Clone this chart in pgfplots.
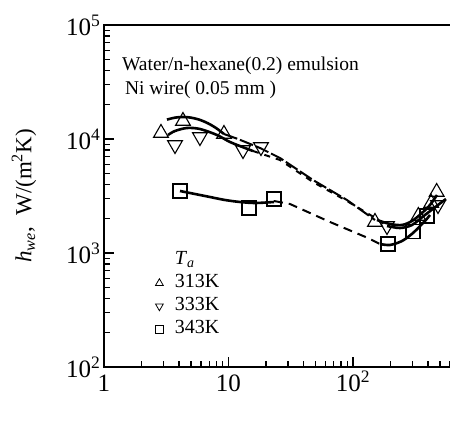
\documentclass[border=0pt]{standalone}
\usepackage{fontspec}
\setmainfont{Liberation Serif}
\usepackage{pgfplots}
\pgfplotsset{compat=1.18}

\begin{document}
\begin{tikzpicture}
\begin{axis}[
  xmode=log, ymode=log,
  scale only axis,
  width=373.5pt, height=342pt,
  xmin=1, xmax=1000, ymin=100, ymax=100000,
  xtick={1,10,100},
  xticklabels={1,10,10\textsuperscript{2}},
  ytick={100,1000,10000,100000},
  yticklabels={10\textsuperscript{2},10\textsuperscript{3},10\textsuperscript{4},10\textsuperscript{5}},
  minor xtick={2,3,4,5,6,7,8,9,20,30,40,50,60,70,80,90,200,300,400,500,600,700,800,900},
  minor ytick={200,300,400,500,600,700,800,900,2000,3000,4000,5000,6000,7000,8000,9000,20000,30000,40000,50000,60000,70000,80000,90000},
  xtick pos=bottom, ytick pos=left,
  tick align=inside,
  major tick length=10pt, minor tick length=6pt,
  every tick/.style={line width=1.3pt, black},
  axis line style={line width=1.8pt},
  tick label style={font=\fontsize{25}{25}\selectfont},
  xticklabel style={text height=17pt, text depth=0pt, yshift=-4pt},
  ylabel={\textit{h}\textsubscript{\textit{we}},\ \ W/(m\textsuperscript{2}K)},
  ylabel style={at={(rel axis cs:-0.214,0.5)}, anchor=center, font=\fontsize{23}{23}\selectfont},
  legend style={at={(rel axis cs:0.125,0.345)}, anchor=north west, draw=none, fill=none,
    font=\fontsize{20}{20}\selectfont, row sep=1pt, column sep=10pt, inner sep=0pt,
    nodes={inner sep=1.5pt, text height=14pt, text depth=5pt}},
  legend cell align=left,
]

% fitted curves, 313K
\addplot[forget plot, line width=2.6pt, smooth] coordinates {
  (3.206,14800) (3.718,15400) (4.310,15600) (4.998,15400) (5.903,14710)
  (6.845,13730) (7.937,12490) (9.203,11060)};
\addplot[forget plot, line width=2pt, dash pattern=on 14pt off 3pt] coordinates {
  (9.203,11060) (11.92,10000) (17.91,8340) (25.93,6813) (47.71,4369)
  (89.48,2917) (150.2,1947)};
\addplot[forget plot, line width=2.6pt, smooth] coordinates {
  (155.9,1947) (198.3,1797) (247.5,1761) (297.8,1909) (358.3,2243)
  (415.4,2637) (472.9,3227)};

% fitted curves, 333K
\addplot[forget plot, line width=2.6pt, smooth] coordinates {
  (3.267,10840) (3.718,11760) (4.642,12490) (5.903,12240) (8.084,10840)
  (10.28,9412) (13.57,8340) (15.73,7847)};
\addplot[forget plot, line width=2pt, dash pattern=on 6pt off 6pt] coordinates {
  (15.73,7847) (25.93,6543) (47.71,4196) (89.48,2858) (142.1,2111) (187.6,1726)};
\addplot[forget plot, line width=2.6pt, smooth] coordinates {
  (187.6,1726) (238.5,1657) (297.8,1761) (378.6,2154) (481.7,2637) (558.5,2977)};

% fitted curves, 343K
\addplot[forget plot, line width=2.6pt, smooth] coordinates {
  (4.077,3499) (5.381,3292) (7.104,3099) (9.374,2917) (12.37,2802)
  (16.32,2745) (23.20,2802)};
\addplot[forget plot, line width=2pt, dash pattern=on 9pt off 6pt] coordinates {
  (23.20,2858) (31.19,2690) (65.37,1871) (131.9,1354) (164.8,1199)};
\addplot[forget plot, line width=2.6pt, smooth] coordinates {
  (164.8,1199) (198.3,1176) (247.5,1274) (303.4,1498) (378.6,1909) (415.4,2154)};

% measured points
\addplot[forget plot, only marks, mark=triangle, mark size=8.5pt,
  mark options={fill=white, line width=1.1pt}] coordinates {
  (2.87,11290) (4.31,14380) (9.20,11060) (150.2,1871) (335,2110) (425,2745) (470,3429)};
\addplot[forget plot, only marks, mark=triangle, mark size=8.5pt,
  mark options={fill=white, line width=1.1pt, rotate=180}] coordinates {
  (3.72,8859) (5.90,10410) (13.08,8007) (18.24,8508) (187.6,1726) (481.7,2637)};
\addplot[forget plot, only marks, mark=square, mark size=7pt,
  mark options={fill=white, line width=1.1pt}] coordinates {
  (4.08,3499) (14.61,2481) (23.20,2977) (191.1,1199) (303.4,1545) (393,2111)};

% legend
\addlegendimage{empty legend}
\addlegendentry{\textit{T}\textsubscript{\textit{a}}}
\addlegendimage{only marks, mark=triangle, mark size=4.5pt, mark options={line width=0.8pt}}
\addlegendentry{313K}
\addlegendimage{only marks, mark=triangle, mark size=4.5pt, mark options={line width=0.8pt, rotate=180}}
\addlegendentry{333K}
\addlegendimage{only marks, mark=square, mark size=3.8pt, mark options={line width=0.8pt}}
\addlegendentry{343K}

\node[anchor=base west, inner sep=0pt, font=\fontsize{19.5}{19.5}\selectfont]
  at (rel axis cs:0.048,0.8655) {Water/n-hexane(0.2) emulsion};
\node[anchor=base west, inner sep=0pt, font=\fontsize{19.5}{19.5}\selectfont]
  at (rel axis cs:0.056,0.798) {Ni wire( 0.05 mm )};
\node[anchor=base west, inner sep=0pt, font=\fontsize{24}{24}\selectfont]
  at (rel axis cs:0.51,-0.152) {\textit{T}\textsubscript{\textit{w}},\ \ K};

\coordinate (bl) at (rel axis cs:-0.2784,-0.1813);
\coordinate (tr) at (rel axis cs:0.9264,1.0731);
\end{axis}
\pgfresetboundingbox
\path[use as bounding box] (bl) rectangle (tr);
\end{tikzpicture}
\end{document}
